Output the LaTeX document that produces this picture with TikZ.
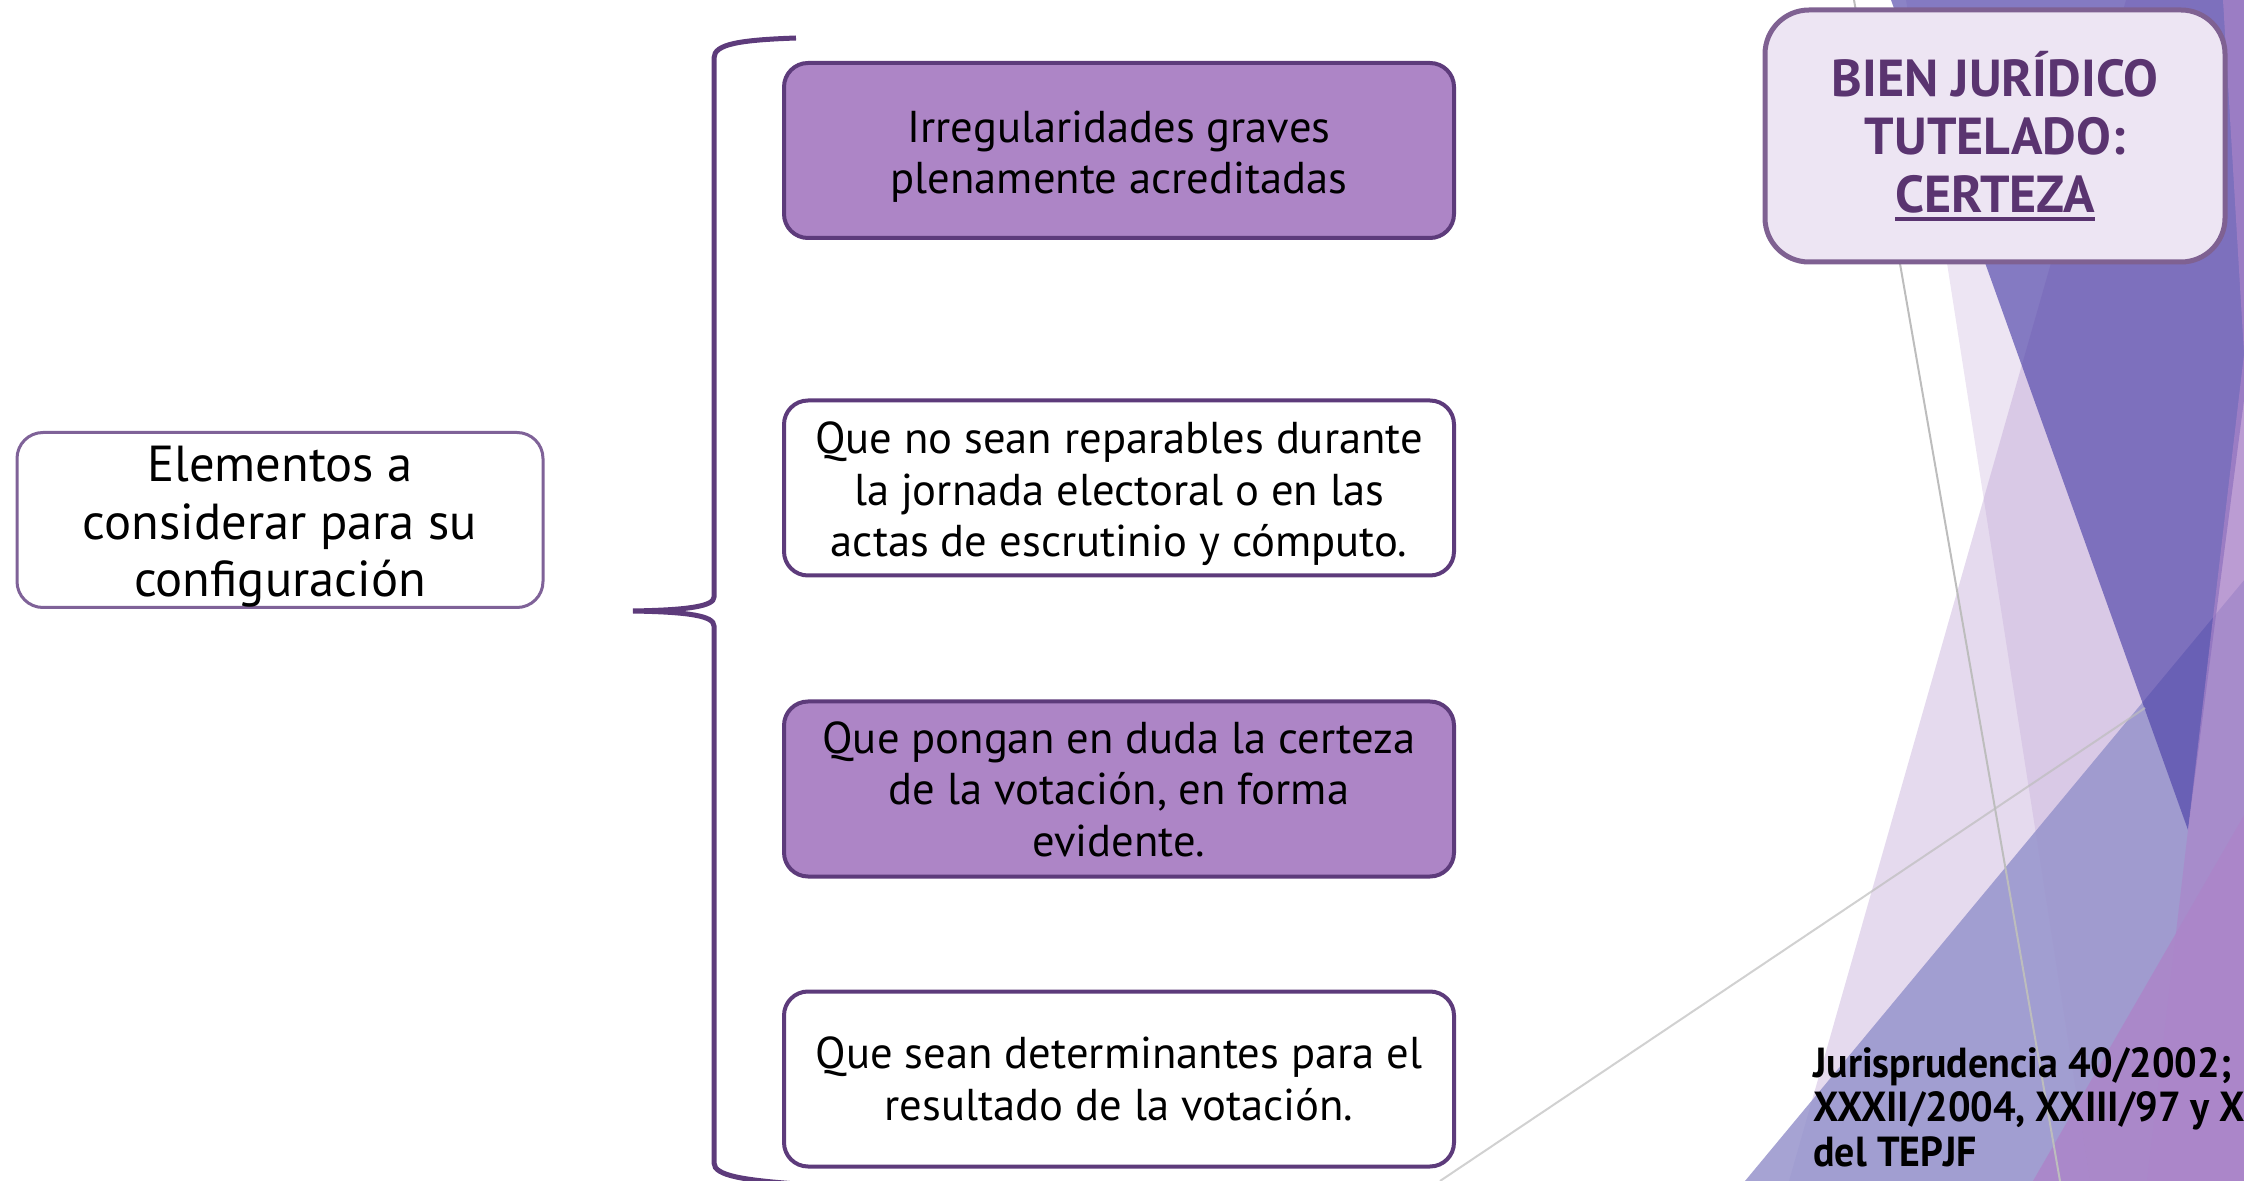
\documentclass[tikz,border=0pt]{standalone}
\usepackage{fontspec}
\setmainfont{PT Sans}
\newfontfamily\narrowfont{PT Sans}[FakeStretch=0.95]
\usetikzlibrary{positioning}
\definecolor{bord}{HTML}{5D3B7B}
\definecolor{fillp}{HTML}{AD85C6}
\definecolor{lbord}{HTML}{7F6298}
\definecolor{rfill}{HTML}{EDE5F3}
\definecolor{rbord}{HTML}{7F6192}
\definecolor{rtext}{HTML}{5A3470}
\definecolor{polyx}{HTML}{EDE5F3}
\definecolor{polyy}{HTML}{B99BD1}
\definecolor{polyb}{HTML}{9794CC}
\definecolor{polyd}{HTML}{4D41A8}
\definecolor{polyr}{HTML}{AC85C9}
\definecolor{greyln}{HTML}{BDBDBD}
\newcommand{\thickul}[1]{\leavevmode\vtop{\hbox{#1}\kern1.6pt\hrule height 2pt}}
\newcommand{\lowerstrut}[1]{\rule{0pt}{#1}}
\begin{document}
\begin{tikzpicture}[x=0.5pt,y=-0.5pt,
  itembox/.style={draw=bord, line width=2pt, rounded corners=12pt,
    minimum width=335pt, minimum height=87.5pt, align=center, inner sep=0pt,
    font=\fontsize{22.3}{25.75}\selectfont},
  filledbox/.style={itembox, fill=fillp},
  plainbox/.style={itembox, fill=white},
  leftbox/.style={draw=lbord, line width=1.5pt, rounded corners=13pt, fill=white,
    minimum width=263pt, minimum height=87.5pt, align=center, inner sep=0pt,
    font=\fontsize{25.3}{28.6}\selectfont},
  rightbox/.style={draw=rbord, line width=2.5pt, rounded corners=22pt, fill=rfill,
    minimum width=230pt, minimum height=126pt, align=center, inner sep=0pt,
    text=rtext, font=\bfseries\fontsize{26}{29}\selectfont},
  reftext/.style={align=left, inner sep=0pt, anchor=north west,
    font=\narrowfont\bfseries\fontsize{21}{22.3}\selectfont},
  bracepath/.style={draw=bord, line width=2.5pt},
  greyline/.style={draw=greyln, line width=1pt}
]
\useasboundingbox (0,0) rectangle (2244,1181);
% background facets
\begin{scope}
\clip (0,0) rectangle (2244,1181);
\fill[polyx] (1906,0) -- (2250,0) -- (2250,1181) -- (2090,1181) -- cycle;
\fill[polyy, fill opacity=0.37] (2126,0) -- (2250,0) -- (2250,1181) -- (1789,1181) -- cycle;
\fill[polyb, fill opacity=0.86] (1745,1181) -- (2250,573) -- (2250,1181) -- cycle;
\fill[polyd, fill opacity=0.65] (1891,0) -- (2250,0) -- (2250,354) -- (2188,830) -- cycle;
\fill[polyr, fill opacity=0.65] (2223,0) -- (2250,0) -- (2250,354) -- (2244,354) -- cycle;
\fill[polyr, fill opacity=0.65] (2244,354) -- (2188,830) -- (2147,1181) -- (2250,1181) -- (2250,354) -- cycle;
\fill[polyr, fill opacity=0.85] (2033,1181) -- (2250,805) -- (2250,1181) -- cycle;
\coordinate (g1a) at (1854,0);
\coordinate (g1b) at (2060,1181);
\coordinate (g2a) at (1440,1181);
\coordinate (g2b) at (2145,708);
\draw[greyline] (g1a) -- (g1b);
\draw[greyline, draw opacity=0.7] (g2a) -- (g2b);
\end{scope}
% main boxes
\node[leftbox] (elem) at (280,520) {\lowerstrut{24.5pt}Elementos a\\considerar para su\\configuración};
\node[filledbox] (b1) at (1119,150.5) {\lowerstrut{22pt}Irregularidades graves\\plenamente acreditadas};
\node[plainbox] (b2) at (1119,488) {\lowerstrut{22pt}Que no sean reparables durante\\la jornada electoral o en las\\actas de escrutinio y cómputo.};
\node[filledbox] (b3) at (1119,789) {Que pongan en duda la certeza\\de la votación, en forma\\evidente.};
\node[plainbox] (b4) at (1119,1079) {Que sean determinantes para el\\resultado de la votación.};
\node[rightbox] (bien) at (1995,136) {BIEN JURÍDICO\\TUTELADO:\\\thickul{CERTEZA}};
\node[reftext] (juris) at (1813,1047) {Jurisprudencia 40/2002;\\XXXII/2004, XXIII/97 y XX\\del TEPJF};
% brace
\coordinate (btop) at (796,38);
\coordinate (btip) at (633,611);
\coordinate (bbot) at (796,1184);
\draw[bracepath] (btop) .. controls (740,40) and (714,44) .. (714,58)
  -- (714,597) .. controls (714,606) and (690,610) .. (btip)
  .. controls (690,612) and (714,616) .. (714,626)
  -- (714,1163) .. controls (714,1176) and (745,1180) .. (bbot);
\end{tikzpicture}
\end{document}
